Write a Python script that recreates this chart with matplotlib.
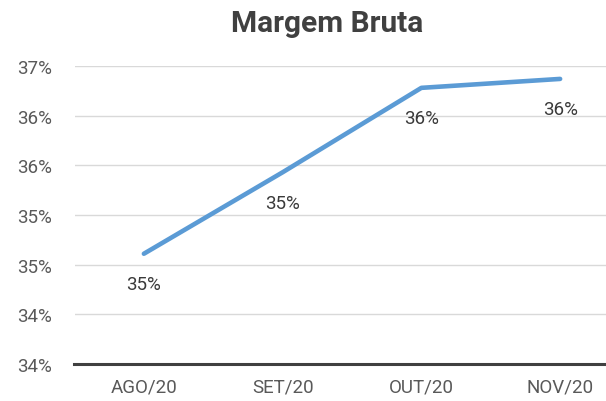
import numpy as np
import matplotlib
matplotlib.use("Agg")
import matplotlib.pyplot as plt
from matplotlib.ticker import FuncFormatter

# Dados (margem bruta mensal, fração)
meses = ["AGO/20", "SET/20", "OUT/20", "NOV/20"]
margem = [0.3463, 0.3545, 0.3630, 0.3639]

# eixo y como no Excel: 7 linhas de grade
y_min, y_max = 0.3352, 0.3652
n_ticks = 7


def pct(v, pos=None):
    return f"{v * 100:.0f}%"


plt.rcParams['font.family'] = ['Roboto', 'DejaVu Sans']

fig = plt.figure(figsize=(6.06, 4.02), dpi=100)
# a área do gráfico passa um pouco da borda direita (recorte original)
ax = fig.add_axes([74.5 / 606, 37 / 402, 555 / 606, 298 / 402])

x = np.arange(len(meses))
ax.plot(x, margem, color="#5B9BD5", lw=3.3, solid_capstyle="round", zorder=3)

for xi, v in zip(x, margem):
    ax.annotate(pct(v), (xi, v), xytext=(0, -22), textcoords="offset points",
                ha="center", va="center", fontsize=13.5, color="#3A3A3A")

ax.set_xlim(-0.5, len(meses) - 0.5)
ax.set_ylim(y_min, y_max)
ax.set_yticks(np.linspace(y_min, y_max, n_ticks))
ax.yaxis.set_major_formatter(FuncFormatter(pct))
ax.set_xticks(x)
ax.set_xticklabels(meses)

ax.grid(axis="y", color="#D9D9D9", lw=1.0)
ax.set_axisbelow(True)
for s in ["top", "right", "left"]:
    ax.spines[s].set_visible(False)
ax.spines["bottom"].set_color("#404040")
ax.spines["bottom"].set_linewidth(2.2)
ax.spines["bottom"].set_zorder(4)

ax.tick_params(axis="y", length=0, pad=16, labelsize=13.5, labelcolor="#595959")
ax.tick_params(axis="x", length=0, pad=10, labelsize=13.5, labelcolor="#595959")

fig.text(327 / 606, 1 - 24 / 402, "Margem Bruta", ha="center", va="center",
         fontsize=21.5, fontweight="bold", color="#404040")

fig.savefig("out.png", dpi=100)
